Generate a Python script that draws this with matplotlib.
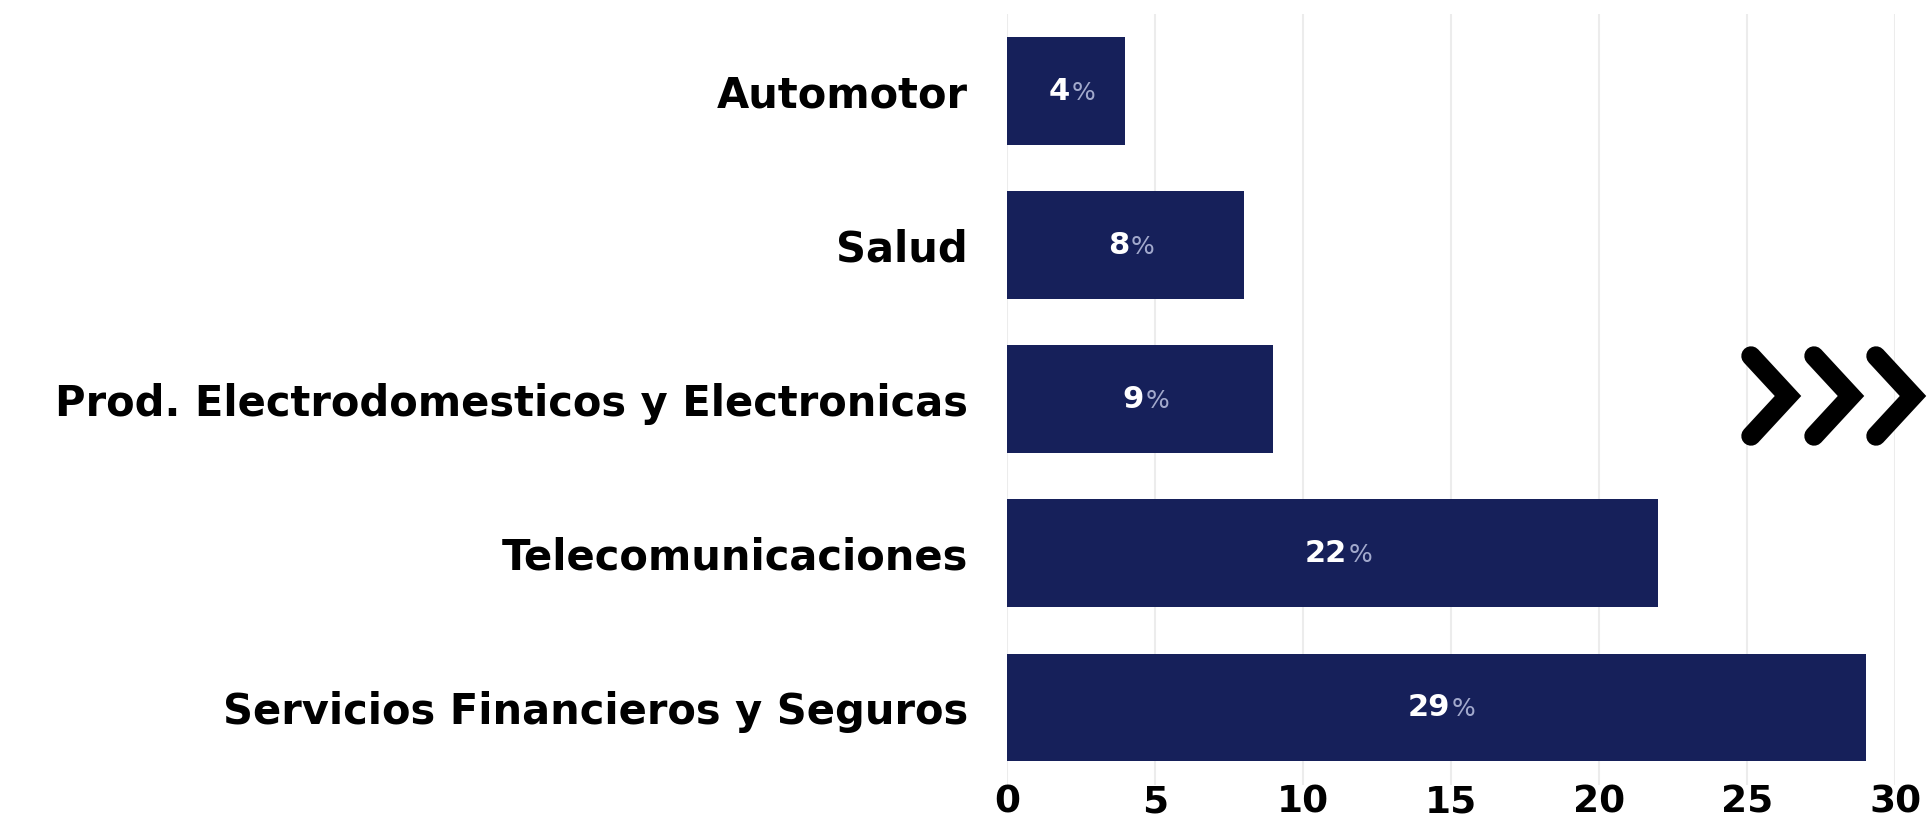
import matplotlib.pyplot as plt
from matplotlib.lines import Line2D
from matplotlib.offsetbox import TextArea, HPacker, AnnotationBbox

categories = ['Automotor',
              'Salud',
              'Prod. Electrodomesticos y Electronicas',
              'Telecomunicaciones',
              'Servicios Financieros y Seguros']
values = [4, 8, 9, 22, 29]
xticks = [0, 5, 10, 15, 20, 25, 30]

navy = '#16205a'
font = ['DejaVu Sans']

fig = plt.figure(figsize=(19.33, 8.23), dpi=100)
ax = fig.add_axes([0.521, 0.0467, 0.4594, 0.9363])

ypos = list(range(len(categories)))
ax.barh(ypos, values, height=0.70, color=navy, zorder=2)
ax.set_ylim(len(categories) - 0.5, -0.5)
ax.set_xlim(0, 30)

# value labels: bold white number + lighter percent sign
for y, v in zip(ypos, values):
    num = TextArea(str(v), textprops=dict(color='white', fontsize=22,
                                          fontweight='bold', family=font))
    pct = TextArea('%', textprops=dict(color='#a2a9cc', fontsize=18,
                                       family=font))
    box = HPacker(children=[num, pct], sep=1, pad=0, align='baseline')
    ab = AnnotationBbox(box, (v / 2, y), xybox=(4, 0), boxcoords='offset points',
                        frameon=False, pad=0, zorder=3)
    ax.add_artist(ab)

ax.set_yticks(ypos)
ax.set_yticklabels(categories, fontsize=30, fontweight='bold', family=font)
ax.set_xticks(xticks)
ax.set_xticklabels([str(t) for t in xticks], fontsize=27, fontweight='bold', family=font)
ax.tick_params(axis='y', length=0, pad=28)
ax.tick_params(axis='x', length=0, pad=0)
for s in ax.spines.values():
    s.set_visible(False)
ax.grid(axis='x', color='#ececec', linewidth=1.5, zorder=0)
ax.grid(axis='y', visible=False)

# chevrons on the right
W, H = 1933, 823
for x0 in [1751, 1814, 1876]:
    xs = [x0 / W, (x0 + 37) / W, x0 / W]
    ys = [(H - 356) / H, (H - 396) / H, (H - 436) / H]
    fig.add_artist(Line2D(xs, ys, transform=fig.transFigure, color='black',
                          linewidth=14, solid_capstyle='round',
                          solid_joinstyle='miter'))

fig.savefig('out.png', dpi=100)
